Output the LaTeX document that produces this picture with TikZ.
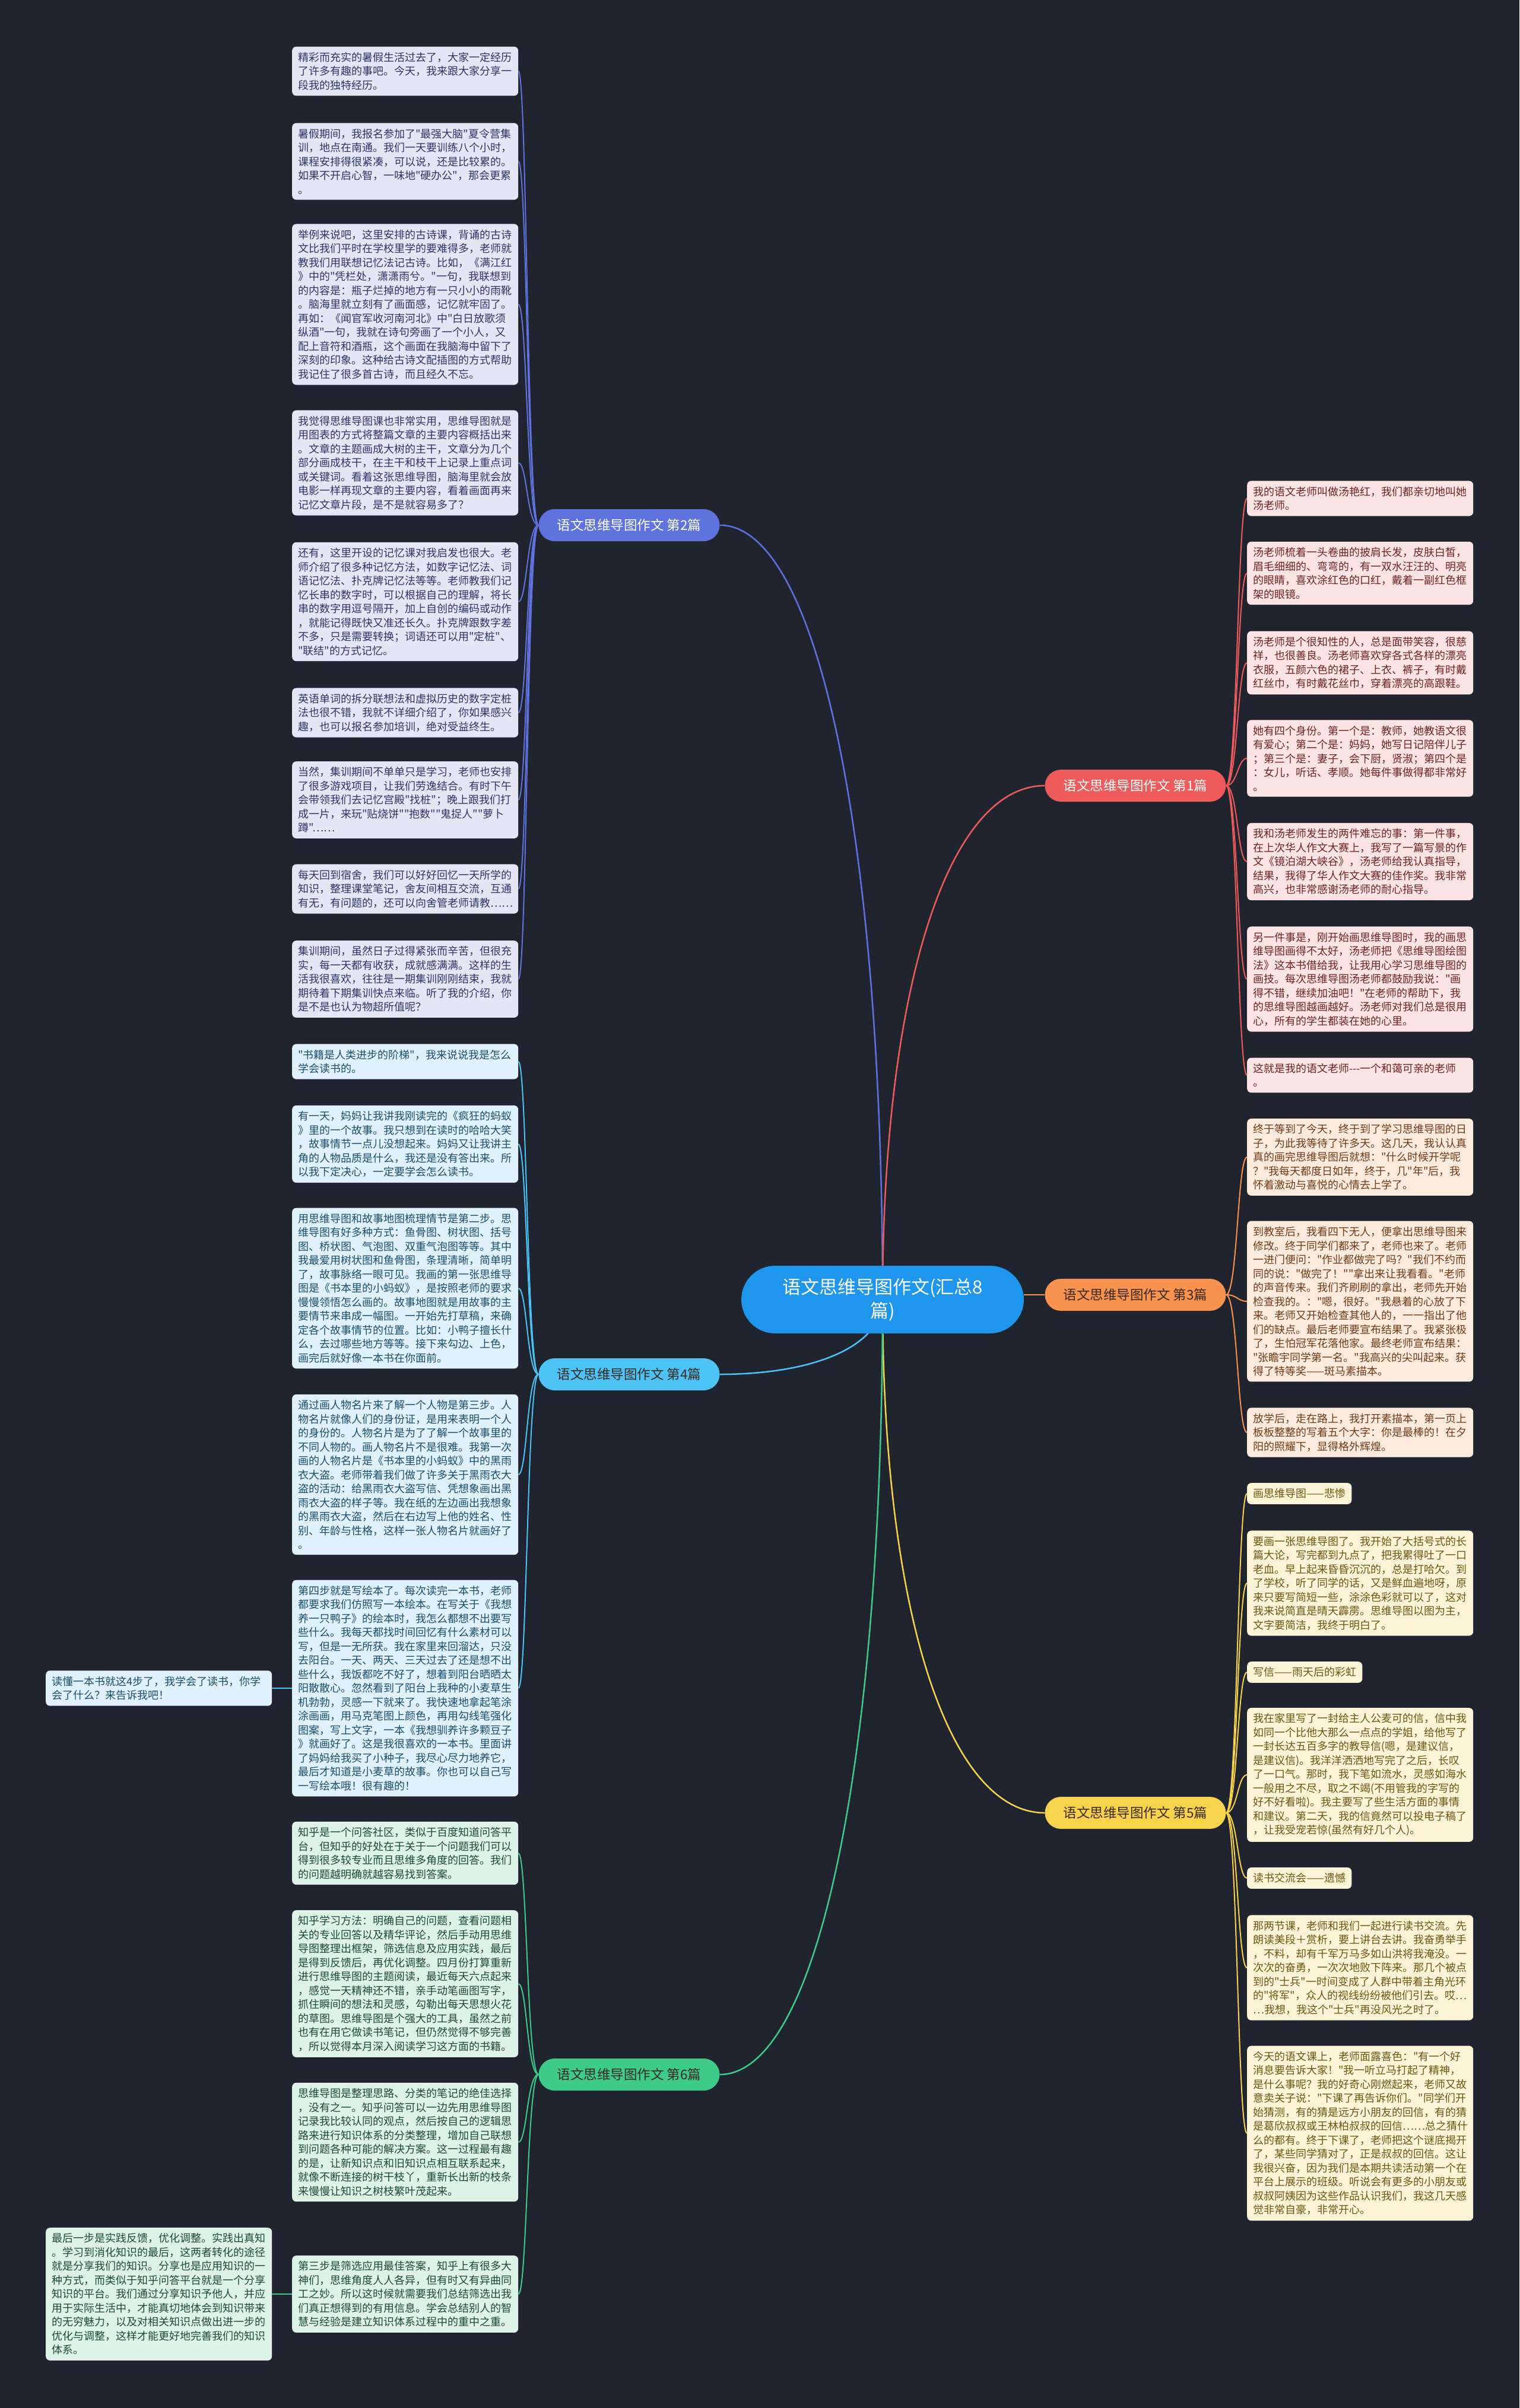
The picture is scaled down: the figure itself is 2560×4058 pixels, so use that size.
\documentclass[tikz,border=0pt]{standalone}
\usepackage{fontspec}
\newfontfamily\zh{Noto Sans CJK SC}
\definecolor{bgc}{HTML}{20242F}
\definecolor{cfill}{HTML}{1E96EE}
\definecolor{c1}{HTML}{EF5B5B}
\definecolor{c2}{HTML}{5F72DE}
\definecolor{c3}{HTML}{F8924F}
\definecolor{c4}{HTML}{4CC2F5}
\definecolor{c5}{HTML}{F6D34A}
\definecolor{c6}{HTML}{3ECB8A}
\definecolor{f1}{HTML}{FCE4E4}\definecolor{t1}{HTML}{6E2222}
\definecolor{f2}{HTML}{E4E6F6}\definecolor{t2}{HTML}{2E3466}
\definecolor{f3}{HTML}{FCEBDD}\definecolor{t3}{HTML}{6E3A16}
\definecolor{f4}{HTML}{DFF2FB}\definecolor{t4}{HTML}{1A4D6B}
\definecolor{f5}{HTML}{FCF4D6}\definecolor{t5}{HTML}{6B5512}
\definecolor{f6}{HTML}{DDF3E8}\definecolor{t6}{HTML}{1C4A36}
\definecolor{pdark}{HTML}{3A2A22}
\pgfdeclarelayer{edges}
\pgfsetlayers{edges,main}
\tikzset{
  leafbase/.style={rounded corners=7pt, inner xsep=10pt, inner ysep=9.5pt,
    font=\zh\fontsize{18}{23.5}\selectfont, align=left, anchor=west},
  wide/.style={text width=361pt},
  L1/.style={leafbase, wide, fill=f1, text=t1},
  L2/.style={leafbase, wide, fill=f2, text=t2},
  L3/.style={leafbase, wide, fill=f3, text=t3},
  L4/.style={leafbase, wide, fill=f4, text=t4},
  L5/.style={leafbase, wide, fill=f5, text=t5},
  L5s/.style={leafbase, fill=f5, text=t5},
  L6/.style={leafbase, wide, fill=f6, text=t6},
  pill/.style={rounded corners=27pt, minimum height=54pt, minimum width=305pt,
    inner xsep=0pt, font=\zh\fontsize{22.5}{26}\selectfont},
  hub/.style={rounded corners=57pt, minimum height=114pt, minimum width=476pt,
    fill=cfill, text=white, align=center, font=\zh\fontsize{31}{40}\selectfont},
  trunk/.style={line width=2.5pt},
  twig/.style={line width=2pt}
}
\begin{document}
\begin{tikzpicture}[x=1pt,y=-1pt]
\useasboundingbox (0,0) rectangle (2560,4058);

% centre and main branches
\node[hub] (c) at (1487,2190) {语文思维导图作文(汇总8\\篇)};
\node[pill, fill=c2, text=white] (b2) at (1060,885) {语文思维导图作文 第2篇};
\node[pill, fill=c4, text=pdark] (b4) at (1060,2316) {语文思维导图作文 第4篇};
\node[pill, fill=c6, text=pdark] (b6) at (1060,3496) {语文思维导图作文 第6篇};
\node[pill, fill=c1, text=white] (b1) at (1913,1324) {语文思维导图作文 第1篇};
\node[pill, fill=c3, text=pdark] (b3) at (1913,2182) {语文思维导图作文 第3篇};
\node[pill, fill=c5, text=pdark] (b5) at (1913,3055) {语文思维导图作文 第5篇};

% branch 2
\node[L2] (l2a) at (492,120) {精彩而充实的暑假生活过去了，大家一定经历\\了许多有趣的事吧。今天，我来跟大家分享一\\段我的独特经历。};
\node[L2] (l2b) at (492,272) {暑假期间，我报名参加了"最强大脑"夏令营集\\训，地点在南通。我们一天要训练八个小时，\\课程安排得很紧凑，可以说，还是比较累的。\\如果不开启心智，一味地"硬办公"，那会更累\\。};
\node[L2] (l2c) at (492,513) {举例来说吧，这里安排的古诗课，背诵的古诗\\文比我们平时在学校里学的要难得多，老师就\\教我们用联想记忆法记古诗。比如，《满江红\\》中的"凭栏处，潇潇雨兮。"一句，我联想到\\的内容是：瓶子烂掉的地方有一只小小的雨靴\\。脑海里就立刻有了画面感，记忆就牢固了。\\再如：《闻官军收河南河北》中"白日放歌须\\纵酒"一句，我就在诗句旁画了一个小人，又\\配上音符和酒瓶，这个画面在我脑海中留下了\\深刻的印象。这种给古诗文配插图的方式帮助\\我记住了很多首古诗，而且经久不忘。};
\node[L2] (l2d) at (492,780) {我觉得思维导图课也非常实用，思维导图就是\\用图表的方式将整篇文章的主要内容概括出来\\。文章的主题画成大树的主干，文章分为几个\\部分画成枝干，在主干和枝干上记录上重点词\\或关键词。看着这张思维导图，脑海里就会放\\电影一样再现文章的主要内容，看着画面再来\\记忆文章片段，是不是就容易多了？};
\node[L2] (l2e) at (492,1014) {还有，这里开设的记忆课对我启发也很大。老\\师介绍了很多种记忆方法，如数字记忆法、词\\语记忆法、扑克牌记忆法等等。老师教我们记\\忆长串的数字时，可以根据自己的理解，将长\\串的数字用逗号隔开，加上自创的编码或动作\\，就能记得既快又准还长久。扑克牌跟数字差\\不多，只是需要转换；词语还可以用"定桩"、\\"联结"的方式记忆。};
\node[L2] (l2f) at (492,1201) {英语单词的拆分联想法和虚拟历史的数字定桩\\法也很不错，我就不详细介绍了，你如果感兴\\趣，也可以报名参加培训，绝对受益终生。};
\node[L2] (l2g) at (492,1348) {当然，集训期间不单单只是学习，老师也安排\\了很多游戏项目，让我们劳逸结合。有时下午\\会带领我们去记忆宫殿"找桩"；晚上跟我们打\\成一片，来玩"贴烧饼""抱数""鬼捉人""萝卜\\蹲"……};
\node[L2] (l2h) at (492,1498) {每天回到宿舍，我们可以好好回忆一天所学的\\知识，整理课堂笔记，舍友间相互交流，互通\\有无，有问题的，还可以向舍管老师请教……};
\node[L2] (l2i) at (492,1650) {集训期间，虽然日子过得紧张而辛苦，但很充\\实，每一天都有收获，成就感满满。这样的生\\活我很喜欢，往往是一期集训刚刚结束，我就\\期待着下期集训快点来临。听了我的介绍，你\\是不是也认为物超所值呢？};

% branch 4
\node[L4] (l4a) at (492,1789) {"书籍是人类进步的阶梯"，我来说说我是怎么\\学会读书的。};
\node[L4] (l4b) at (492,1928) {有一天，妈妈让我讲我刚读完的《疯狂的蚂蚁\\》里的一个故事。我只想到在读时的哈哈大笑\\，故事情节一点儿没想起来。妈妈又让我讲主\\角的人物品质是什么，我还是没有答出来。所\\以我下定决心，一定要学会怎么读书。};
\node[L4] (l4c) at (492,2171) {用思维导图和故事地图梳理情节是第二步。思\\维导图有好多种方式：鱼骨图、树状图、括号\\图、桥状图、气泡图、双重气泡图等等。其中\\我最爱用树状图和鱼骨图，条理清晰，简单明\\了，故事脉络一眼可见。我画的第一张思维导\\图是《书本里的小蚂蚁》，是按照老师的要求\\慢慢领悟怎么画的。故事地图就是用故事的主\\要情节来串成一幅图。一开始先打草稿，来确\\定各个故事情节的位置。比如：小鸭子擅长什\\么，去过哪些地方等等。接下来勾边、上色，\\画完后就好像一本书在你面前。};
\node[L4] (l4d) at (492,2485) {通过画人物名片来了解一个人物是第三步。人\\物名片就像人们的身份证，是用来表明一个人\\的身份的。人物名片是为了了解一个故事里的\\不同人物的。画人物名片不是很难。我第一次\\画的人物名片是《书本里的小蚂蚁》中的黑雨\\衣大盗。老师带着我们做了许多关于黑雨衣大\\盗的活动：给黑雨衣大盗写信、凭想象画出黑\\雨衣大盗的样子等。我在纸的左边画出我想象\\的黑雨衣大盗，然后在右边写上他的姓名、性\\别、年龄与性格，这样一张人物名片就画好了\\。};
\node[L4] (l4e) at (492,2845) {第四步就是写绘本了。每次读完一本书，老师\\都要求我们仿照写一本绘本。在写关于《我想\\养一只鸭子》的绘本时，我怎么都想不出要写\\些什么。我每天都找时间回忆有什么素材可以\\写，但是一无所获。我在家里来回溜达，只没\\去阳台。一天、两天、三天过去了还是想不出\\些什么，我饭都吃不好了，想着到阳台晒晒太\\阳散散心。忽然看到了阳台上我种的小麦草生\\机勃勃，灵感一下就来了。我快速地拿起笔涂\\涂画画，用马克笔图上颜色，再用勾线笔强化\\图案，写上文字，一本《我想驯养许多颗豆子\\》就画好了。这是我很喜欢的一本书。里面讲\\了妈妈给我买了小种子，我尽心尽力地养它，\\最后才知道是小麦草的故事。你也可以自己写\\一写绘本哦！很有趣的！};
\node[L4] (f4) at (77,2845) {读懂一本书就这4步了，我学会了读书，你学\\会了什么？来告诉我吧！};

% branch 6
\node[L6] (l6a) at (492,3123) {知乎是一个问答社区，类似于百度知道问答平\\台，但知乎的好处在于关于一个问题我们可以\\得到很多较专业而且思维多角度的回答。我们\\的问题越明确就越容易找到答案。};
\node[L6] (l6b) at (492,3343) {知乎学习方法：明确自己的问题，查看问题相\\关的专业回答以及精华评论，然后手动用思维\\导图整理出框架，筛选信息及应用实践，最后\\是得到反馈后，再优化调整。四月份打算重新\\进行思维导图的主题阅读，最近每天六点起来\\，感觉一天精神还不错，亲手动笔画图写字，\\抓住瞬间的想法和灵感，勾勒出每天思想火花\\的草图。思维导图是个强大的工具，虽然之前\\也有在用它做读书笔记，但仍然觉得不够完善\\，所以觉得本月深入阅读学习这方面的书籍。};
\node[L6] (l6c) at (492,3610) {思维导图是整理思路、分类的笔记的绝佳选择\\，没有之一。知乎问答可以一边先用思维导图\\记录我比较认同的观点，然后按自己的逻辑思\\路来进行知识体系的分类整理，增加自己联想\\到问题各种可能的解决方案。这一过程最有趣\\的是，让新知识点和旧知识点相互联系起来，\\就像不断连接的树干枝丫，重新长出新的枝条\\来慢慢让知识之树枝繁叶茂起来。};
\node[L6] (l6d) at (492,3866) {第三步是筛选应用最佳答案，知乎上有很多大\\神们，思维角度人人各异，但有时又有异曲同\\工之妙。所以这时候就需要我们总结筛选出我\\们真正想得到的有用信息。学会总结别人的智\\慧与经验是建立知识体系过程中的重中之重。};
\node[L6] (f6) at (77,3866) {最后一步是实践反馈，优化调整。实践出真知\\。学习到消化知识的最后，这两者转化的途径\\就是分享我们的知识。分享也是应用知识的一\\种方式，而类似于知乎问答平台就是一个分享\\知识的平台。我们通过分享知识予他人，并应\\用于实际生活中，才能真切地体会到知识带来\\的无穷魅力，以及对相关知识点做出进一步的\\优化与调整，这样才能更好地完善我们的知识\\体系。};

% branch 1
\node[L1] (r1a) at (2101,840) {我的语文老师叫做汤艳红，我们都亲切地叫她\\汤老师。};
\node[L1] (r1b) at (2101,966) {汤老师梳着一头卷曲的披肩长发，皮肤白皙，\\眉毛细细的、弯弯的，有一双水汪汪的、明亮\\的眼睛，喜欢涂红色的口红，戴着一副红色框\\架的眼镜。};
\node[L1] (r1c) at (2101,1117) {汤老师是个很知性的人，总是面带笑容，很慈\\祥，也很善良。汤老师喜欢穿各式各样的漂亮\\衣服，五颜六色的裙子、上衣、裤子，有时戴\\红丝巾，有时戴花丝巾，穿着漂亮的高跟鞋。};
\node[L1] (r1d) at (2101,1278) {她有四个身份。第一个是：教师，她教语文很\\有爱心；第二个是：妈妈，她写日记陪伴儿子\\；第三个是：妻子，会下厨，贤淑；第四个是\\：女儿，听话、孝顺。她每件事做得都非常好\\。};
\node[L1] (r1e) at (2101,1452) {我和汤老师发生的两件难忘的事：第一件事，\\在上次华人作文大赛上，我写了一篇写景的作\\文《镜泊湖大峡谷》，汤老师给我认真指导，\\结果，我得了华人作文大赛的佳作奖。我非常\\高兴，也非常感谢汤老师的耐心指导。};
\node[L1] (r1f) at (2101,1650) {另一件事是，刚开始画思维导图时，我的画思\\维导图画得不太好，汤老师把《思维导图绘图\\法》这本书借给我，让我用心学习思维导图的\\画技。每次思维导图汤老师都鼓励我说："画\\得不错，继续加油吧！"在老师的帮助下，我\\的思维导图越画越好。汤老师对我们总是很用\\心，所有的学生都装在她的心里。};
\node[L1] (r1g) at (2101,1812) {这就是我的语文老师---一个和蔼可亲的老师\\。};

% branch 3
\node[L3] (r3a) at (2101,1950) {终于等到了今天，终于到了学习思维导图的日\\子，为此我等待了许多天。这几天，我认认真\\真的画完思维导图后就想："什么时候开学呢\\？"我每天都度日如年，终于，几"年"后，我\\怀着激动与喜悦的心情去上学了。};
\node[L3] (r3b) at (2101,2193) {到教室后，我看四下无人，便拿出思维导图来\\修改。终于同学们都来了，老师也来了。老师\\一进门便问："作业都做完了吗？"我们不约而\\同的说："做完了！""拿出来让我看看。"老师\\的声音传来。我们齐刷刷的拿出，老师先开始\\检查我的。："嗯，很好。"我悬着的心放了下\\来。老师又开始检查其他人的，一一指出了他\\们的缺点。最后老师要宣布结果了。我紧张极\\了，生怕冠军花落他家。最终老师宣布结果：\\"张瞻宇同学第一名。"我高兴的尖叫起来。获\\得了特等奖——斑马素描本。};
\node[L3] (r3c) at (2101,2414) {放学后，走在路上，我打开素描本，第一页上\\板板整整的写着五个大字：你是最棒的！在夕\\阳的照耀下，显得格外辉煌。};

% branch 5
\node[L5s] (r5a) at (2101,2517) {画思维导图——悲惨};
\node[L5] (r5b) at (2101,2668) {要画一张思维导图了。我开始了大括号式的长\\篇大论，写完都到九点了，把我累得吐了一口\\老血。早上起来昏昏沉沉的，总是打哈欠。到\\了学校，听了同学的话，又是鲜血遍地呀，原\\来只要写简短一些，涂涂色彩就可以了，这对\\我来说简直是晴天霹雳。思维导图以图为主，\\文字要简洁，我终于明白了。};
\node[L5s] (r5c) at (2101,2818) {写信——雨天后的彩虹};
\node[L5] (r5d) at (2101,2991) {我在家里写了一封给主人公麦可的信，信中我\\如同一个比他大那么一点点的学姐，给他写了\\一封长达五百多字的教导信(嗯，是建议信，\\是建议信)。我洋洋洒洒地写完了之后，长叹\\了一口气。那时，我下笔如流水，灵感如海水\\一般用之不尽，取之不竭(不用管我的字写的\\好不好看啦)。我主要写了些生活方面的事情\\和建议。第二天，我的信竟然可以投电子稿了\\，让我受宠若惊(虽然有好几个人)。};
\node[L5s] (r5e) at (2101,3165) {读书交流会——遗憾};
\node[L5] (r5f) at (2101,3316) {那两节课，老师和我们一起进行读书交流。先\\朗读美段＋赏析，要上讲台去讲。我奋勇举手\\，不料，却有千军万马多如山洪将我淹没。一\\次次的奋勇，一次次地败下阵来。那几个被点\\到的"士兵"一时间变成了人群中带着主角光环\\的"将军"，众人的视线纷纷被他们引去。哎…\\…我想，我这个"士兵"再没风光之时了。};
\node[L5] (r5g) at (2101,3595) {今天的语文课上，老师面露喜色："有一个好\\消息要告诉大家！"我一听立马打起了精神，\\是什么事呢？我的好奇心刚燃起来，老师又故\\意卖关子说："下课了再告诉你们。"同学们开\\始猜测，有的猜是远方小朋友的回信，有的猜\\是葛欣叔叔或王林柏叔叔的回信……总之猜什\\么的都有。终于下课了，老师把这个谜底揭开\\了，某些同学猜对了，正是叔叔的回信。这让\\我很兴奋，因为我们是本期共读活动第一个在\\平台上展示的班级。听说会有更多的小朋友或\\叔叔阿姨因为这些作品认识我们，我这几天感\\觉非常自豪，非常开心。};

\begin{pgfonlayer}{edges}
\fill[bgc] (0,0) rectangle (2560,4058);
% trunks
\draw[trunk, c2] (c.center) .. controls (1487,1407) and (1377,885) .. (b2.east);
\draw[trunk, c1] (c.center) .. controls (1487,1670) and (1596,1324) .. (b1.west);
\draw[trunk, c5] (c.center) .. controls (1487,2709) and (1596,3055) .. (b5.west);
\draw[trunk, c6] (c.center) .. controls (1487,2974) and (1377,3496) .. (b6.east);
\draw[trunk, c4] (c.center) .. controls (1487,2266) and (1377,2316) .. (b4.east);
\draw[trunk, c3] (b3.west -| c.east) -- (b3.west);
% left twigs
\foreach \n in {l2a,l2b,l2c,l2d,l2e,l2f,l2g,l2h,l2i}
  \draw[twig, c2] (b2.west) .. controls (888,0 |- b2.west) and (888,0 |- \n.east) .. (\n.east);
\foreach \n in {l4a,l4b,l4c,l4d,l4e}
  \draw[twig, c4] (b4.west) .. controls (888,0 |- b4.west) and (888,0 |- \n.east) .. (\n.east);
\foreach \n in {l6a,l6b,l6c,l6d}
  \draw[twig, c6] (b6.west) .. controls (888,0 |- b6.west) and (888,0 |- \n.east) .. (\n.east);
\draw[twig, c4] (l4e.west) -- (f4.east);
\draw[twig, c6] (l6d.west) -- (f6.east);
% right twigs
\foreach \n in {r1a,r1b,r1c,r1d,r1e,r1f,r1g}
  \draw[twig, c1] (b1.east) .. controls (2085,0 |- b1.east) and (2085,0 |- \n.west) .. (\n.west);
\foreach \n in {r3a,r3b,r3c}
  \draw[twig, c3] (b3.east) .. controls (2085,0 |- b3.east) and (2085,0 |- \n.west) .. (\n.west);
\foreach \n in {r5a,r5b,r5c,r5d,r5e,r5f,r5g}
  \draw[twig, c5] (b5.east) .. controls (2085,0 |- b5.east) and (2085,0 |- \n.west) .. (\n.west);
\end{pgfonlayer}
\end{tikzpicture}
\end{document}
